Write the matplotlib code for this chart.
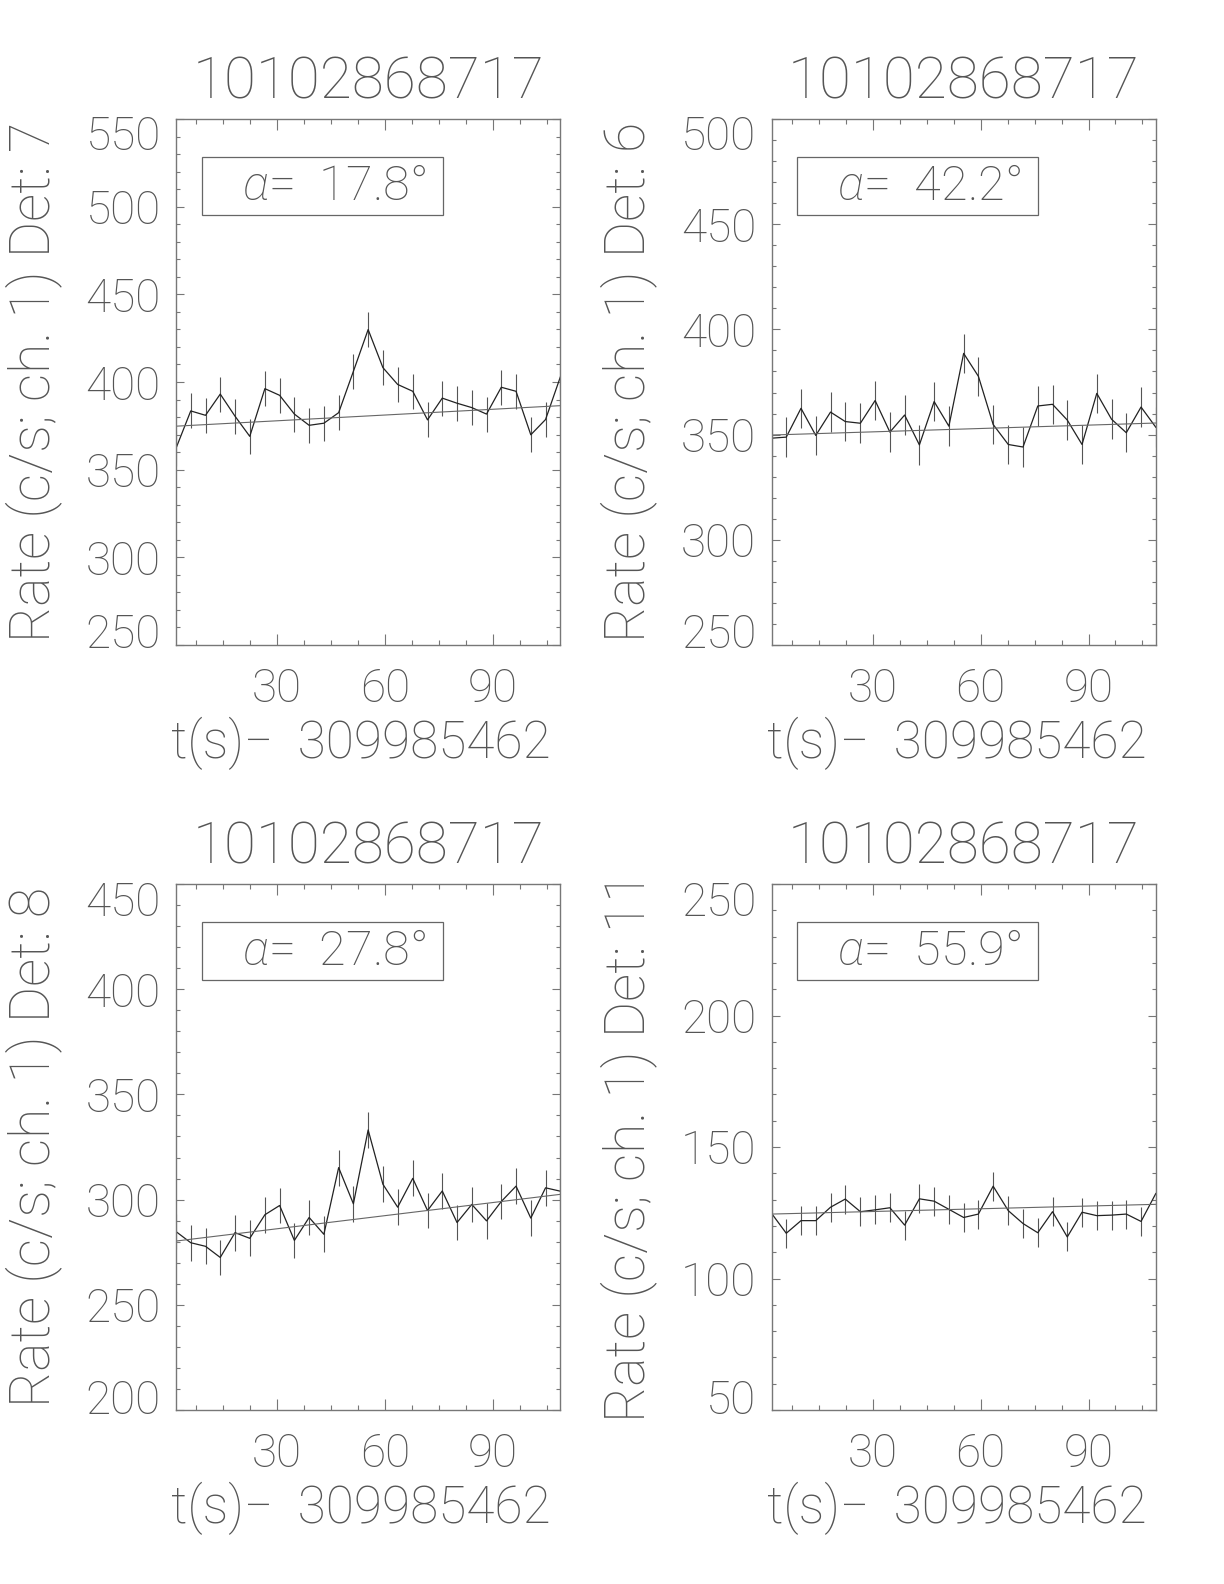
import matplotlib
matplotlib.use('Agg')
import matplotlib.pyplot as plt
import matplotlib.transforms as mtransforms
from matplotlib.patches import Rectangle
from matplotlib.ticker import FixedLocator, MultipleLocator

plt.rcParams['font.family'] = ['Roboto', 'DejaVu Sans']
plt.rcParams['font.weight'] = 'light'
plt.rcParams['axes.titleweight'] = 'light'
plt.rcParams['mathtext.fontset'] = 'custom'
plt.rcParams['mathtext.it'] = 'Roboto:italic:light'
plt.rcParams['mathtext.rm'] = 'Roboto:light'

# time bins, s after 309985462
t = [1.9, 6.0, 10.1, 14.2, 18.3, 22.4, 26.6, 30.7, 34.8, 38.9, 43.0, 47.1, 51.2, 55.3,
     59.4, 63.5, 67.7, 71.8, 75.9, 80.0, 84.1, 88.2, 92.3, 96.4, 100.5, 104.6, 108.7]

rate_det7 = [362.2, 383.5, 381.0, 393.1, 380.5, 369.0, 396.2, 392.4, 381.7, 375.3, 376.5,
             382.5, 406.1, 429.9, 408.2, 398.6, 394.7, 378.4, 390.8, 387.9, 385.4, 381.7,
             397.0, 394.7, 369.9, 378.6, 402.8]
rate_det6 = [348.3, 348.8, 362.5, 349.6, 360.7, 356.2, 355.4, 366.2, 351.2, 359.3, 345.1,
             365.7, 354.0, 388.6, 377.7, 354.8, 345.3, 344.1, 363.6, 364.4, 356.9, 345.3,
             369.6, 357.3, 350.9, 363.1, 353.5]
rate_det8 = [284.8, 279.5, 277.8, 272.5, 284.3, 281.6, 292.8, 297.2, 280.6, 291.5, 283.5,
             315.2, 298.0, 333.1, 307.3, 296.4, 310.1, 294.8, 304.1, 289.1, 297.7, 289.9,
             299.1, 306.4, 291.2, 305.6, 304.0]
rate_det11 = [124.8, 117.2, 122.0, 122.0, 127.1, 130.2, 125.4, 126.1, 126.9, 120.3, 130.3,
              129.4, 126.3, 123.2, 124.5, 135.1, 125.8, 120.9, 117.4, 125.4, 115.8, 125.2,
              123.9, 124.1, 124.5, 121.7, 132.3]

# error bar half lengths
err_det7 = 10.0
err_det6 = 9.4
err_det8 = 8.5
err_det11 = 5.5

# background fit, value at first and last bin
fit_det7 = [374.8, 386.5]
fit_det6 = [349.8, 355.5]
fit_det8 = [280.3, 302.5]
fit_det11 = [124.5, 128.2]

ylim_det7 = [250, 550]
ylim_det6 = [250, 500]
ylim_det8 = [200, 450]
ylim_det11 = [50, 250]

dets = [7, 6, 8, 11]
alphas = ['17.8', '42.2', '27.8', '55.9']
trigger = '10102868717'
t0 = '309985462'

TXT = '#555555'
AX = '#777777'

fig = plt.figure(figsize=(12.24, 15.84), dpi=100)
W, H = 1224.0, 1584.0
boxes = [(176, 119), (771.5, 119), (176, 884), (771.5, 884)]
aw, ah = 384.3, 526.0

panels = [(rate_det7, err_det7, fit_det7, ylim_det7),
          (rate_det6, err_det6, fit_det6, ylim_det6),
          (rate_det8, err_det8, fit_det8, ylim_det8),
          (rate_det11, err_det11, fit_det11, ylim_det11)]

for k, (rate, err, fit, ylim) in enumerate(panels):
    x0, y0 = boxes[k]
    ax = fig.add_axes([x0 / W, 1 - (y0 + ah) / H, aw / W, ah / H])

    ax.errorbar(t, rate, yerr=err, fmt='none', ecolor='#555555', elinewidth=0.8)
    ax.plot(t, rate, color='#222222', lw=0.9)
    ax.plot([t[0], t[-1]], fit, color='#666666', lw=0.8)

    ax.set_xlim(t[0], t[-1])
    ax.set_ylim(ylim)
    ax.xaxis.set_major_locator(FixedLocator([30, 60, 90]))
    ax.xaxis.set_minor_locator(MultipleLocator(7.5))
    ax.yaxis.set_major_locator(FixedLocator(list(range(ylim[0], ylim[1] + 1, 50))))
    ax.yaxis.set_minor_locator(MultipleLocator(10))

    ax.tick_params(which='both', direction='in', top=True, right=True,
                   color=AX, labelcolor=TXT, labelsize=33, width=0.8)
    ax.tick_params(axis='x', which='major', length=7.6, pad=16)
    ax.tick_params(axis='x', which='minor', length=3.4)
    ax.tick_params(axis='y', which='major', length=5.5, pad=11)
    ax.tick_params(axis='y', which='minor', length=2.8)
    for s in ax.spines.values():
        s.set_color(AX)
        s.set_linewidth(1.0)

    ax.set_title(trigger, fontsize=42, pad=15, color=TXT, fontweight='light')
    ax.text(-0.372, 0.5, 'Rate (c/s; ch. 1) Det: %d' % dets[k], transform=ax.transAxes,
            rotation=90, ha='center', va='center', fontsize=40, color=TXT)
    ax.text(0.481, -0.188, 't(s)\u2212  ' + t0, transform=ax.transAxes,
            ha='center', va='center', fontsize=37, color=TXT)

    ax.add_patch(Rectangle((0.067, 0.817), 0.627, 0.11, transform=ax.transAxes,
                           fill=False, edgecolor='#666666', lw=0.9))
    ax.text(0.41, 0.872, r'$\alpha$=  ' + alphas[k] + '\u00b0', transform=ax.transAxes,
            ha='center', va='center', fontsize=35, color=TXT)

    # end labels of the y axis sit inside the frame
    labs = ax.get_yticklabels()
    up = mtransforms.ScaledTranslation(0, 14 / 100.0, fig.dpi_scale_trans)
    down = mtransforms.ScaledTranslation(0, -14 / 100.0, fig.dpi_scale_trans)
    labs[0].set_transform(labs[0].get_transform() + up)
    labs[-1].set_transform(labs[-1].get_transform() + down)

fig.savefig('out.png', dpi=100, facecolor='white')
